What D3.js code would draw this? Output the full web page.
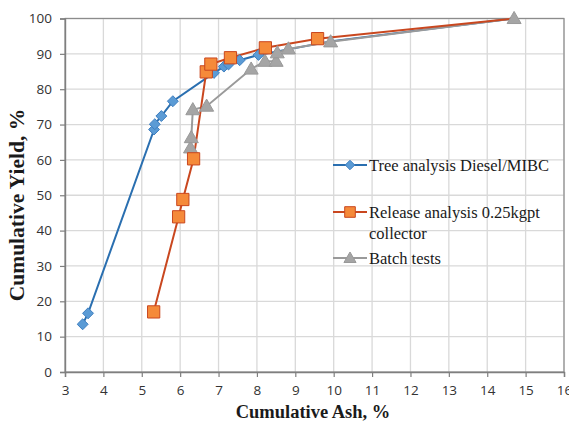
<!DOCTYPE html>
<html>
<head>
<meta charset="utf-8">
<script src="https://cdn.jsdelivr.net/npm/d3@7"></script>
<style>
  html, body { margin: 0; padding: 0; background: #fff; }
  svg { display: block; }
</style>
</head>
<body>
<svg id="chart" width="569" height="421"></svg>
<script>
// Cumulative ash (x, %) and cumulative yield (y, %) for each curve
const treeAsh   = [3.46, 3.60, 5.32, 5.34, 5.51, 5.81, 6.88, 7.14, 7.26, 7.55, 8.04, 9.95, 14.70];
const treeYield = [13.5, 16.6, 68.6, 70.1, 72.4, 76.6, 84.6, 86.4, 87.0, 88.2, 89.7, 93.6, 100.0];

const releaseAsh   = [5.31, 5.96, 6.07, 6.35, 6.68, 6.80, 7.31, 8.22, 9.58, 14.70];
const releaseYield = [17.0, 43.9, 48.8, 60.3, 84.9, 87.1, 88.9, 91.7, 94.3, 100.0];

const batchAsh   = [6.27, 6.29, 6.33, 6.69, 7.85, 8.21, 8.50, 8.53, 8.82, 9.92, 14.70];
const batchYield = [63.4, 66.3, 74.2, 75.2, 85.7, 87.9, 87.9, 90.3, 91.4, 93.4, 100.0];

const xTicks = d3.range(3, 17, 1);
const yTicks = d3.range(0, 101, 10);

const seriesNames = ["Tree analysis Diesel/MIBC", "Release analysis 0.25kgpt collector", "Batch tests"];

const svg = d3.select("#chart");
const plot = { left: 65, right: 564, top: 18.5, bottom: 372 };

const x = d3.scaleLinear().domain([3, 16]).range([plot.left, plot.right]);
const y = d3.scaleLinear().domain([0, 100]).range([plot.bottom, plot.top]);

// grid
const grid = svg.append("g");
grid.selectAll("line.vx").data(xTicks.slice(1)).join("line")
  .attr("x1", d => x(d)).attr("x2", d => x(d))
  .attr("y1", plot.top).attr("y2", plot.bottom)
  .attr("stroke", "#d9d9d9").attr("stroke-width", 1.3);
grid.selectAll("line.hy").data(yTicks.slice(1)).join("line")
  .attr("x1", plot.left).attr("x2", plot.right)
  .attr("y1", d => y(d)).attr("y2", d => y(d))
  .attr("stroke", "#d9d9d9").attr("stroke-width", 1.3);

// plot frame
svg.append("rect")
  .attr("x", plot.left).attr("y", plot.top)
  .attr("width", plot.right - plot.left).attr("height", plot.bottom - plot.top)
  .attr("fill", "none").attr("stroke", "#8c8c8c").attr("stroke-width", 1.2);

// axes
const tickFont = "'Open Sans', 'Noto Sans', sans-serif";
const xAxis = svg.append("g")
  .attr("transform", `translate(0,${plot.bottom})`)
  .call(d3.axisBottom(x).tickValues(xTicks).tickFormat(d3.format("d")).tickSize(5).tickPadding(8));
const yAxis = svg.append("g")
  .attr("transform", `translate(${plot.left},0)`)
  .call(d3.axisLeft(y).tickValues(yTicks).tickFormat(d3.format("d")).tickSize(5).tickPadding(8));
[xAxis, yAxis].forEach(a => {
  a.select(".domain").attr("stroke", "#7f7f7f").attr("stroke-width", 1.4);
  a.selectAll(".tick line").attr("stroke", "#7f7f7f").attr("stroke-width", 1.2);
  a.selectAll(".tick text").attr("fill", "#333333")
    .style("font-family", tickFont).style("font-size", "13.5px");
});

// axis titles
const titleFont = "'Liberation Serif', 'Times New Roman', serif";
svg.append("text")
  .attr("x", 313).attr("y", 418)
  .attr("text-anchor", "middle")
  .style("font-family", titleFont)
  .style("font-weight", "bold").style("font-size", "18.5px")
  .attr("fill", "#1a1a1a")
  .text("Cumulative Ash, %");
svg.append("text")
  .attr("transform", "translate(24,205) rotate(-90)")
  .attr("text-anchor", "middle")
  .style("font-family", titleFont)
  .style("font-weight", "bold").style("font-size", "21.5px")
  .attr("fill", "#1a1a1a")
  .text("Cumulative Yield, %");

// diamond drawn as a square turned 45 degrees
const diamond = {
  draw(ctx, size) {
    const r = Math.sqrt(size / 2);
    ctx.moveTo(0, -r); ctx.lineTo(r, 0); ctx.lineTo(0, r); ctx.lineTo(-r, 0); ctx.closePath();
  }
};

const series = [
  { name: seriesNames[0], xs: treeAsh, ys: treeYield, line: "#2a6fb0", fill: "#5b9bd5", stroke: "#3f7fc0", shape: diamond, size: 60, tail: 2 },
  { name: seriesNames[1], xs: releaseAsh, ys: releaseYield, line: "#c9471f", fill: "#f58a3a", stroke: "#c9471f", shape: d3.symbolSquare, size: 150, tail: 1 },
  { name: seriesNames[2], xs: batchAsh, ys: batchYield, line: "#9a9a9a", fill: "#a5a5a5", stroke: "#999999", shape: d3.symbolTriangle, size: 85, tail: 0 }
];

const lineGen = d3.line().x(d => x(d[0])).y(d => y(d[1]));

// lines first (blue, gray, orange), then markers in the same order
const order = [0, 2, 1];
order.forEach(i => {
  const s = series[i];
  const pts = s.xs.map((v, k) => [v, s.ys[k]]);
  svg.append("path").datum(pts)
    .attr("d", lineGen).attr("fill", "none")
    .attr("stroke", s.line).attr("stroke-width", 2);
});
order.forEach(i => {
  const s = series[i];
  // the last points sit under the gray curve's markers and carry no marker of their own
  const pts = s.xs.map((v, k) => [v, s.ys[k]]).slice(0, s.xs.length - s.tail);
  svg.append("g").selectAll("path").data(pts).join("path")
    .attr("transform", d => `translate(${x(d[0])},${y(d[1]) + (s.shape === d3.symbolTriangle ? 1 : 0)})`)
    .attr("d", d3.symbol().type(s.shape).size(s.size))
    .attr("fill", s.fill).attr("stroke", s.stroke).attr("stroke-width", 1);
});

// legend
const legendRows = [
  { s: series[0], y: 165, lines: ["Tree analysis Diesel/MIBC"] },
  { s: series[1], y: 212, lines: ["Release analysis 0.25kgpt", "collector"] },
  { s: series[2], y: 258, lines: ["Batch tests"] }
];
const lg = svg.append("g");
legendRows.forEach(r => {
  const row = lg.append("g");
  row.append("line").attr("x1", 333).attr("x2", 367).attr("y1", r.y).attr("y2", r.y)
    .attr("stroke", r.s.line).attr("stroke-width", 2.2);
  row.append("path")
    .attr("transform", `translate(350,${r.y + (r.s.shape === d3.symbolTriangle ? 1 : 0)})`)
    .attr("d", d3.symbol().type(r.s.shape).size(r.s.size * 0.75))
    .attr("fill", r.s.fill).attr("stroke", r.s.stroke).attr("stroke-width", 1);
  r.lines.forEach((t, k) => {
    row.append("text")
      .attr("x", 369).attr("y", r.y + 5.5 + k * 21)
      .style("font-family", titleFont).style("font-size", "16.5px")
      .attr("fill", "#1a1a1a")
      .text(t);
  });
});
</script>
</body>
</html>
